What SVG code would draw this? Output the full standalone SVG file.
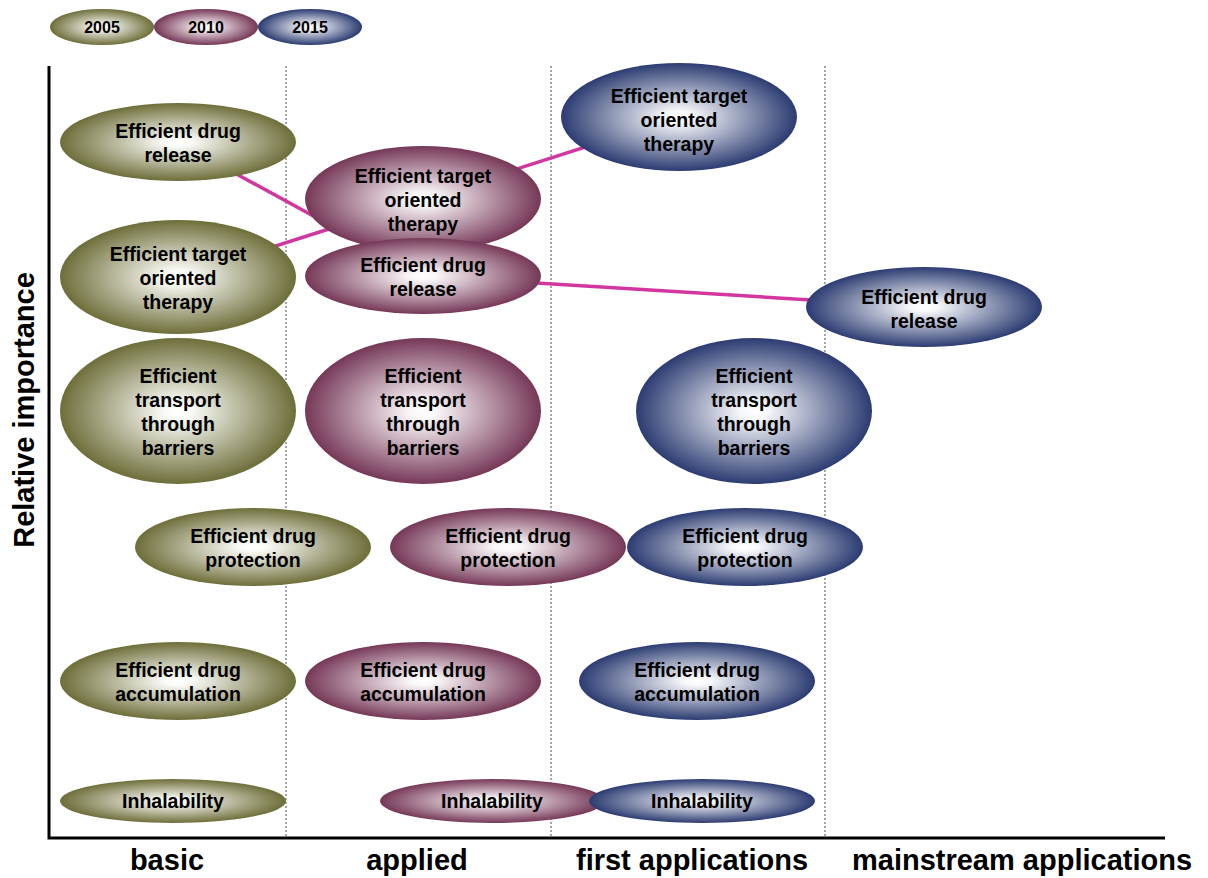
<svg xmlns="http://www.w3.org/2000/svg" width="1208" height="878" viewBox="0 0 1208 878">
<defs>
<radialGradient id="g05" cx="50%" cy="50%" r="50%"><stop offset="0" stop-color="#ffffff"/><stop offset="0.12" stop-color="#fafaf6"/><stop offset="1" stop-color="#6e6e3a"/></radialGradient>
<radialGradient id="g10" cx="50%" cy="50%" r="50%"><stop offset="0" stop-color="#ffffff"/><stop offset="0.12" stop-color="#faf6f8"/><stop offset="1" stop-color="#763858"/></radialGradient>
<radialGradient id="g15" cx="50%" cy="50%" r="50%"><stop offset="0" stop-color="#ffffff"/><stop offset="0.12" stop-color="#f6f7fa"/><stop offset="1" stop-color="#2c3c72"/></radialGradient>
<style>
.y05{fill:url(#g05)}.y10{fill:url(#g10)}.y15{fill:url(#g15)}
text{font-family:"Liberation Sans",Arial,sans-serif;font-weight:bold;fill:#000;text-anchor:middle}
.n{font-size:19.5px}.lg{font-size:16px}.ax{font-size:29px}
.dot{stroke:#888;stroke-width:1.5;stroke-dasharray:2 2;fill:none}
.axis{stroke:#000;stroke-width:3;fill:none}
.link{stroke:#d2379f;stroke-width:3.5;fill:none}
</style>
</defs>
<g id="legend">
<g id="leg2005"><ellipse class="y05" cx="102" cy="27" rx="52" ry="18"/><text class="lg" x="102" y="33">2005</text></g>
<g id="leg2010"><ellipse class="y10" cx="206" cy="27" rx="52" ry="18"/><text class="lg" x="206" y="33">2010</text></g>
<g id="leg2015"><ellipse class="y15" cx="310" cy="27" rx="52" ry="18"/><text class="lg" x="310" y="33">2015</text></g>
</g>
<g id="grid">
<line class="dot" x1="286" y1="66" x2="286" y2="838"/>
<line class="dot" x1="551" y1="66" x2="551" y2="838"/>
<line class="dot" x1="825" y1="66" x2="825" y2="838"/>
</g>
<g id="axes">
<polyline class="axis" points="49,66 49,838 1165,838"/>
<text class="ax" x="167" y="870">basic</text>
<text class="ax" x="417" y="870">applied</text>
<text class="ax" x="692" y="870">first applications</text>
<text class="ax" x="1022" y="870">mainstream applications</text>
<text class="ax" transform="translate(34,410) rotate(-90)">Relative importance</text>
</g>
<g id="connectors">
<polyline class="link" points="178,142 423,276 924,307"/>
<polyline class="link" points="178,277 423,199 679,117"/>
</g>
<g id="n05-release"><ellipse class="y05" cx="178" cy="142" rx="118" ry="39"/><text class="n" x="178" y="138">Efficient drug</text><text class="n" x="178" y="162">release</text></g>
<g id="n05-target"><ellipse class="y05" cx="178" cy="277" rx="118" ry="57"/><text class="n" x="178" y="261">Efficient target</text><text class="n" x="178" y="285">oriented</text><text class="n" x="178" y="309">therapy</text></g>
<g id="n10-target"><ellipse class="y10" cx="423" cy="199" rx="118" ry="53"/><text class="n" x="423" y="183">Efficient target</text><text class="n" x="423" y="207">oriented</text><text class="n" x="423" y="231">therapy</text></g>
<g id="n10-release"><ellipse class="y10" cx="423" cy="276" rx="118" ry="38"/><text class="n" x="423" y="272">Efficient drug</text><text class="n" x="423" y="296">release</text></g>
<g id="n15-target"><ellipse class="y15" cx="679" cy="117" rx="118" ry="54"/><text class="n" x="679" y="103">Efficient target</text><text class="n" x="679" y="127">oriented</text><text class="n" x="679" y="151">therapy</text></g>
<g id="n15-release"><ellipse class="y15" cx="924" cy="307" rx="118" ry="40"/><text class="n" x="924" y="304">Efficient drug</text><text class="n" x="924" y="328">release</text></g>
<g id="n05-transport"><ellipse class="y05" cx="178" cy="411" rx="118" ry="73"/><text class="n" x="178" y="383">Efficient</text><text class="n" x="178" y="407">transport</text><text class="n" x="178" y="431">through</text><text class="n" x="178" y="455">barriers</text></g>
<g id="n10-transport"><ellipse class="y10" cx="423" cy="411" rx="118" ry="73"/><text class="n" x="423" y="383">Efficient</text><text class="n" x="423" y="407">transport</text><text class="n" x="423" y="431">through</text><text class="n" x="423" y="455">barriers</text></g>
<g id="n15-transport"><ellipse class="y15" cx="754" cy="411" rx="118" ry="73"/><text class="n" x="754" y="383">Efficient</text><text class="n" x="754" y="407">transport</text><text class="n" x="754" y="431">through</text><text class="n" x="754" y="455">barriers</text></g>
<g id="n05-protection"><ellipse class="y05" cx="253" cy="547" rx="118" ry="39"/><text class="n" x="253" y="543">Efficient drug</text><text class="n" x="253" y="567">protection</text></g>
<g id="n10-protection"><ellipse class="y10" cx="508" cy="547" rx="118" ry="39"/><text class="n" x="508" y="543">Efficient drug</text><text class="n" x="508" y="567">protection</text></g>
<g id="n15-protection"><ellipse class="y15" cx="745" cy="547" rx="118" ry="39"/><text class="n" x="745" y="543">Efficient drug</text><text class="n" x="745" y="567">protection</text></g>
<g id="n05-accumulation"><ellipse class="y05" cx="178" cy="681" rx="118" ry="39"/><text class="n" x="178" y="677">Efficient drug</text><text class="n" x="178" y="701">accumulation</text></g>
<g id="n10-accumulation"><ellipse class="y10" cx="423" cy="681" rx="118" ry="39"/><text class="n" x="423" y="677">Efficient drug</text><text class="n" x="423" y="701">accumulation</text></g>
<g id="n15-accumulation"><ellipse class="y15" cx="697" cy="681" rx="118" ry="39"/><text class="n" x="697" y="677">Efficient drug</text><text class="n" x="697" y="701">accumulation</text></g>
<g id="n05-inhal"><ellipse class="y05" cx="173" cy="801" rx="113" ry="22"/><text class="n" x="173" y="808">Inhalability</text></g>
<g id="n10-inhal"><ellipse class="y10" cx="492" cy="801" rx="112" ry="22"/><text class="n" x="492" y="808">Inhalability</text></g>
<g id="n15-inhal"><ellipse class="y15" cx="702" cy="801" rx="113" ry="22"/><text class="n" x="702" y="808">Inhalability</text></g>
</svg>
